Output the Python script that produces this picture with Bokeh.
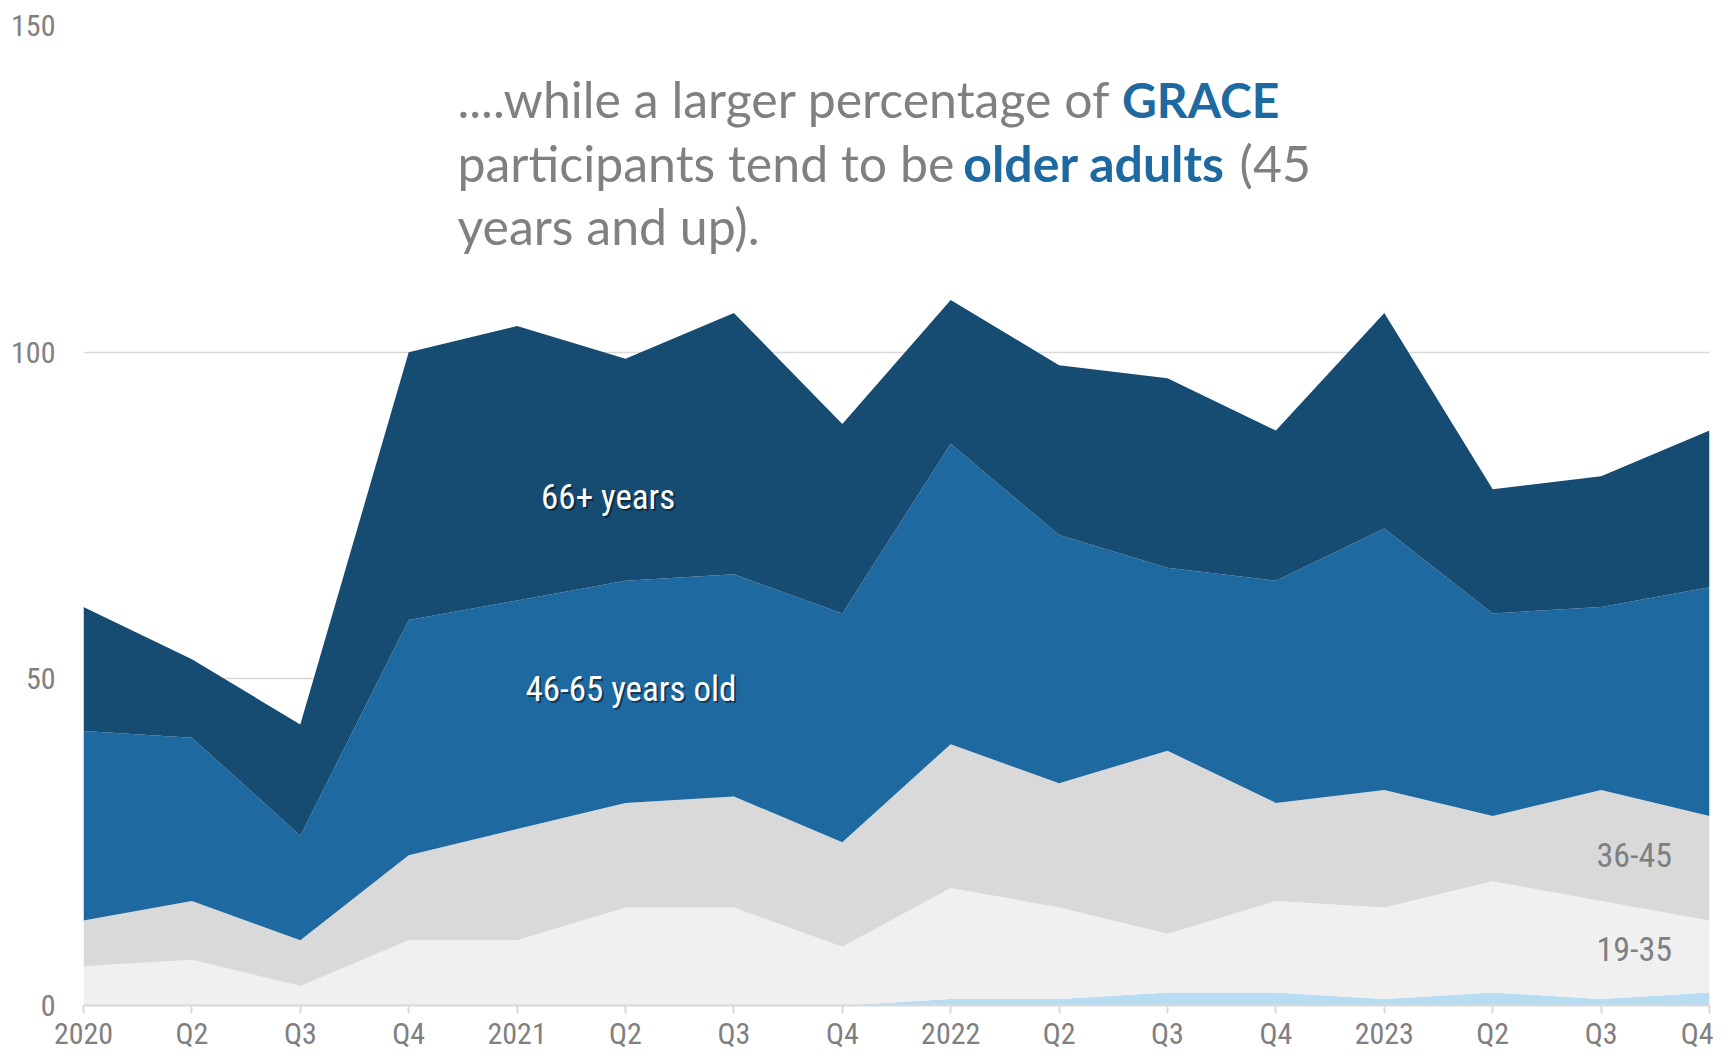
from bokeh.plotting import figure
from bokeh.models import Range1d, FixedTicker, Label
from bokeh.embed import file_html
from bokeh.resources import INLINE

quarters = ["2020", "Q2", "Q3", "Q4", "2021", "Q2", "Q3", "Q4",
            "2022", "Q2", "Q3", "Q4", "2023", "Q2", "Q3", "Q4"]
age_0_18 = [0, 0, 0, 0, 0, 0, 0, 0, 1, 1, 2, 2, 1, 2, 1, 2]
age_19_35 = [6, 7, 3, 10, 10, 15, 15, 9, 17, 14, 9, 14, 14, 17, 15, 11]
age_36_45 = [7, 9, 7, 13, 17, 16, 17, 16, 22, 19, 28, 15, 18, 10, 17, 16]
age_46_65 = [29, 25, 16, 36, 35, 34, 34, 35, 46, 38, 28, 34, 40, 31, 28, 35]
age_66_up = [19, 12, 17, 41, 42, 34, 40, 29, 22, 26, 29, 23, 33, 19, 20, 24]
y_ticks = [0, 50, 100, 150]

series_names = ["age_0_18", "age_19_35", "age_36_45", "age_46_65", "age_66_up"]
colors = ["#b8dcf2", "#f0f0f0", "#d9d9d9", "#1d69a0", "#174c72"]

x = list(range(len(quarters)))
data = dict(x=x, age_0_18=age_0_18, age_19_35=age_19_35, age_36_45=age_36_45,
            age_46_65=age_46_65, age_66_up=age_66_up)

TICK_FONT = "'Liberation Sans Narrow', 'Roboto Condensed', 'Liberation Sans', sans-serif"
GRAY = "#808080"

p = figure(width=1713, height=1053, x_range=Range1d(0, len(quarters) - 1),
           y_range=Range1d(0, 150), output_backend="svg", toolbar_location=None,
           min_border_left=83, min_border_right=4, min_border_top=25,
           min_border_bottom=46)
p.outline_line_color = None
p.background_fill_color = "white"

p.varea_stack(stackers=series_names, x="x", color=colors, source=data)

# axes
p.xaxis.ticker = FixedTicker(ticks=x)
p.xaxis.major_label_overrides = {i: q for i, q in enumerate(quarters)}
p.xaxis.axis_line_color = "#d9d9d9"
p.xaxis.axis_line_width = 2
p.xaxis.major_tick_line_color = "#d9d9d9"
p.xaxis.major_tick_line_width = 2
p.xaxis.major_tick_in = 0
p.xaxis.major_tick_out = 8
p.xaxis.minor_tick_line_color = None
p.xaxis.major_label_standoff = 2
p.xaxis.major_label_text_font = TICK_FONT
p.xaxis.major_label_text_font_size = "30px"
p.xaxis.major_label_text_color = GRAY

p.yaxis.ticker = FixedTicker(ticks=y_ticks)
p.yaxis.axis_line_color = None
p.yaxis.major_tick_line_color = None
p.yaxis.minor_tick_line_color = None
p.yaxis.major_label_standoff = 22
p.yaxis.major_label_text_font = TICK_FONT
p.yaxis.major_label_text_font_size = "30px"
p.yaxis.major_label_text_color = GRAY

p.xgrid.grid_line_color = None
p.ygrid.grid_line_color = "#d9d9d9"
p.ygrid.grid_line_width = 1.5

# area labels (white with shadow)
def shadow_label(text, xx, yy, align):
    p.add_layout(Label(x=xx, y=yy, text=text, x_offset=2, y_offset=-2,
                       text_font=TICK_FONT, text_font_size="35px",
                       text_color="black", text_alpha=0.45,
                       text_align=align, text_baseline="middle"))
    p.add_layout(Label(x=xx, y=yy, text=text, text_font=TICK_FONT,
                       text_font_size="35px", text_color="white",
                       text_align=align, text_baseline="middle"))

shadow_label("66+ years", 4.84, 77.7, "center")
shadow_label("46-65 years old", 5.05, 48.4, "center")

for txt, yy in [("36-45", 23.0), ("19-35", 8.6)]:
    p.add_layout(Label(x=14.655, y=yy, text=txt, text_font=TICK_FONT,
                       text_font_size="34px", text_color=GRAY,
                       text_align="right", text_baseline="middle"))

# headline text block
HFONT = "Lato"
BLUE = "#1d69a0"
segments = [
    ("....while a larger percentage of", 3.45, 138.7, GRAY, "normal", "50px"),
    ("GRACE", 9.58, 138.7, BLUE, "bold", "48px"),
    ("participants tend to be", 3.45, 129.0, GRAY, "normal", "50px"),
    ("older adults", 8.115, 129.0, BLUE, "bold", "50px"),
    ("(45", 10.665, 129.0, GRAY, "normal", "50px"),
    ("years and up).", 3.45, 119.3, GRAY, "normal", "50px"),
]
for txt, xx, yy, col, style, size in segments:
    p.add_layout(Label(x=xx, y=yy, text=txt, text_font=HFONT,
                       text_font_size=size, text_color=col,
                       text_font_style=style, text_align="left",
                       text_baseline="alphabetic"))

open("out.html", "w").write(file_html(p, INLINE))
